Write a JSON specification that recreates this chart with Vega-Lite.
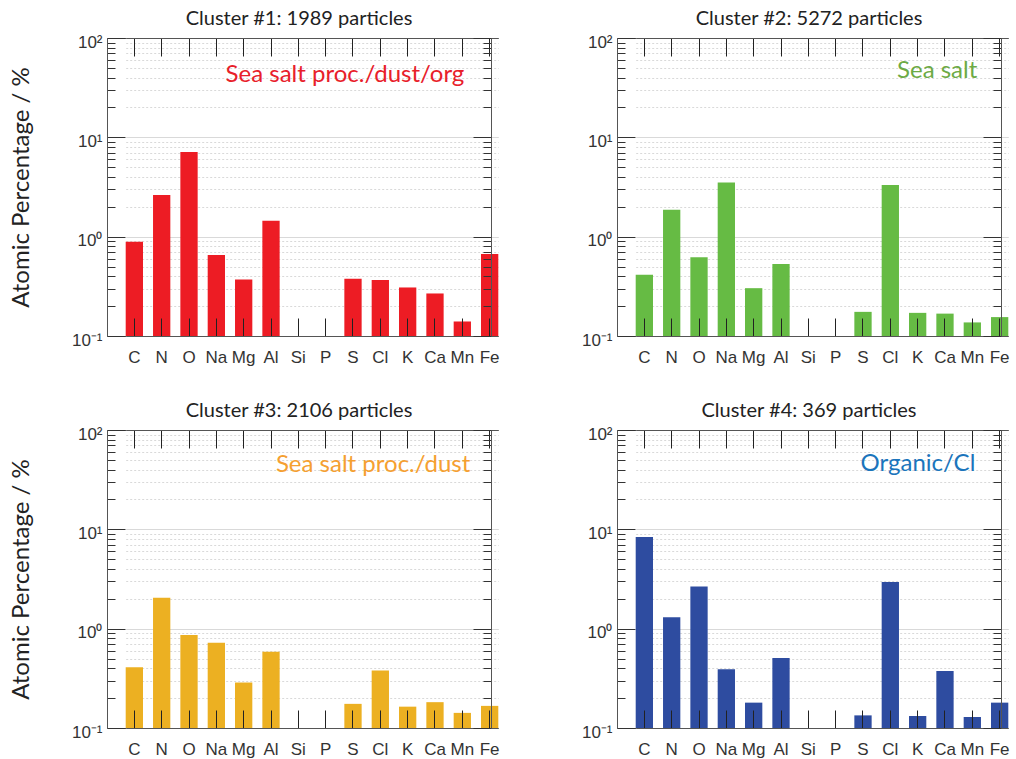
{
  "$schema": "https://vega.github.io/schema/vega-lite/v6.json",
  "padding": {"left": 8, "top": 8, "right": 0, "bottom": 0},
  "background": "white",
  "datasets": {
    "bars": [
      {"cluster": 1, "el": "C", "pct": 0.89},
      {"cluster": 1, "el": "N", "pct": 2.62},
      {"cluster": 1, "el": "O", "pct": 7.1},
      {"cluster": 1, "el": "Na", "pct": 0.655},
      {"cluster": 1, "el": "Mg", "pct": 0.37},
      {"cluster": 1, "el": "Al", "pct": 1.45},
      {"cluster": 1, "el": "S", "pct": 0.376},
      {"cluster": 1, "el": "Cl", "pct": 0.367},
      {"cluster": 1, "el": "K", "pct": 0.308},
      {"cluster": 1, "el": "Ca", "pct": 0.268},
      {"cluster": 1, "el": "Mn", "pct": 0.14},
      {"cluster": 1, "el": "Fe", "pct": 0.67},
      {"cluster": 2, "el": "C", "pct": 0.413},
      {"cluster": 2, "el": "N", "pct": 1.87},
      {"cluster": 2, "el": "O", "pct": 0.62},
      {"cluster": 2, "el": "Na", "pct": 3.52},
      {"cluster": 2, "el": "Mg", "pct": 0.303},
      {"cluster": 2, "el": "Al", "pct": 0.53},
      {"cluster": 2, "el": "S", "pct": 0.175},
      {"cluster": 2, "el": "Cl", "pct": 3.31},
      {"cluster": 2, "el": "K", "pct": 0.171},
      {"cluster": 2, "el": "Ca", "pct": 0.168},
      {"cluster": 2, "el": "Mn", "pct": 0.137},
      {"cluster": 2, "el": "Fe", "pct": 0.155},
      {"cluster": 3, "el": "C", "pct": 0.41},
      {"cluster": 3, "el": "N", "pct": 2.05},
      {"cluster": 3, "el": "O", "pct": 0.865},
      {"cluster": 3, "el": "Na", "pct": 0.72},
      {"cluster": 3, "el": "Mg", "pct": 0.287},
      {"cluster": 3, "el": "Al", "pct": 0.587},
      {"cluster": 3, "el": "S", "pct": 0.175},
      {"cluster": 3, "el": "Cl", "pct": 0.38},
      {"cluster": 3, "el": "K", "pct": 0.164},
      {"cluster": 3, "el": "Ca", "pct": 0.182},
      {"cluster": 3, "el": "Mn", "pct": 0.142},
      {"cluster": 3, "el": "Fe", "pct": 0.167},
      {"cluster": 4, "el": "C", "pct": 8.37},
      {"cluster": 4, "el": "N", "pct": 1.3},
      {"cluster": 4, "el": "O", "pct": 2.65},
      {"cluster": 4, "el": "Na", "pct": 0.39},
      {"cluster": 4, "el": "Mg", "pct": 0.18},
      {"cluster": 4, "el": "Al", "pct": 0.507},
      {"cluster": 4, "el": "S", "pct": 0.134},
      {"cluster": 4, "el": "Cl", "pct": 2.95},
      {"cluster": 4, "el": "K", "pct": 0.132},
      {"cluster": 4, "el": "Ca", "pct": 0.375},
      {"cluster": 4, "el": "Mn", "pct": 0.129},
      {"cluster": 4, "el": "Fe", "pct": 0.18}
    ],
    "notes": [
      {"cluster": 1, "el": "Mn", "pct": 42.5, "label": "Sea salt proc./dust/org"},
      {"cluster": 2, "el": "Mn", "pct": 46.5, "label": "Sea salt"},
      {"cluster": 3, "el": "Mn", "pct": 44.5, "label": "Sea salt proc./dust"},
      {"cluster": 4, "el": "Mn", "pct": 45.5, "label": "Organic/Cl"}
    ]
  },
  "columns": 2,
  "spacing": {"row": 34, "column": 80},
  "concat": [
    {
      "width": 384, "height": 298,
      "title": {"text": "Cluster #1: 1989 particles"},
      "layer": [
        {
          "data": {"name": "bars"},
          "transform": [{"filter": "datum.cluster == 1"}],
          "mark": {"type": "bar", "color": "#ED1C24"},
          "encoding": {
            "x": {"field": "el", "type": "nominal", "scale": {"domain": ["C","N","O","Na","Mg","Al","Si","P","S","Cl","K","Ca","Mn","Fe"], "range": [18.7, 391.3], "paddingInner": 0.367, "paddingOuter": 0},
              "axis": {"orient": "bottom", "title": null, "labelAngle": 0, "labelFont": "Liberation Sans", "labelFontSize": 17, "labelColor": "#333", "labelBaseline": "top", "tickSize": -18, "labelPadding": 31, "tickColor": "#222", "domainColor": "#555", "zindex": 1, "grid": false}},
            "y": {"field": "pct", "type": "quantitative", "stack": null, "scale": {"type": "log", "domain": [0.1, 100], "nice": false},
              "axis": {"orient": "left", "title": "Atomic Percentage / %", "titleFont": "Lato", "titleFontSize": 24, "titleFontWeight": "normal", "titleColor": "#222", "titlePadding": 38,
                "values": [0.1,0.2,0.3,0.4,0.5,0.6,0.7,0.8,0.9,1,2,3,4,5,6,7,8,9,10,20,30,40,50,60,70,80,90,100],
                "labelExpr": "datum.value == 100 ? '10²' : datum.value == 10 ? '10¹' : datum.value == 1 ? '10⁰' : datum.value == 0.1 ? '10⁻¹' : ''",
                "labelFont": "Liberation Sans", "labelFontSize": 17, "labelColor": "#333", "labelPadding": 23, "labelOffset": 4,
                "tickSize": {"condition": {"test": "datum.value == 0.1 || datum.value == 1 || datum.value == 10 || datum.value == 100", "value": -18}, "value": -8},
                "tickColor": "#333", "domainColor": "#555",
                "grid": true, "gridColor": "#d9d9d9", "gridDash": {"condition": {"test": "datum.value == 0.1 || datum.value == 1 || datum.value == 10 || datum.value == 100", "value": []}, "value": [2, 2]},
                "zindex": 0}},
            "y2": {"datum": 0.1}
          }
        },
        {
          "data": {"name": "notes"},
          "transform": [{"filter": "datum.cluster == 1"}],
          "mark": {"type": "text", "align": "right", "baseline": "middle", "font": "Lato", "fontSize": 24, "color": "#E8202A", "dx": 2},
          "encoding": {
            "x": {"field": "el", "type": "nominal", "scale": {"domain": ["C","N","O","Na","Mg","Al","Si","P","S","Cl","K","Ca","Mn","Fe"], "range": [18.7, 391.3], "paddingInner": 0.367, "paddingOuter": 0},
              "axis": {"orient": "top", "title": null, "labels": false, "tickSize": -18, "tickColor": "#222", "domainColor": "#555", "zindex": 1, "grid": false}},
            "y": {"field": "pct", "type": "quantitative", "scale": {"type": "log", "domain": [0.1, 100], "nice": false},
              "axis": {"orient": "right", "title": null, "labels": false,
                "values": [0.1,0.2,0.3,0.4,0.5,0.6,0.7,0.8,0.9,1,2,3,4,5,6,7,8,9,10,20,30,40,50,60,70,80,90,100],
                "tickSize": {"condition": {"test": "datum.value == 0.1 || datum.value == 1 || datum.value == 10 || datum.value == 100", "value": -18}, "value": -8},
                "tickColor": "#333", "domainColor": "#555", "grid": false, "zindex": 1}},
            "text": {"field": "label"}
          }
        }
      ],
      "resolve": {"axis": {"x": "independent", "y": "independent"}}
    },
    {
      "width": 384, "height": 298,
      "title": {"text": "Cluster #2: 5272 particles"},
      "layer": [
        {
          "data": {"name": "bars"},
          "transform": [{"filter": "datum.cluster == 2"}],
          "mark": {"type": "bar", "color": "#66BB44"},
          "encoding": {
            "x": {"field": "el", "type": "nominal", "scale": {"domain": ["C","N","O","Na","Mg","Al","Si","P","S","Cl","K","Ca","Mn","Fe"], "range": [18.7, 391.3], "paddingInner": 0.367, "paddingOuter": 0},
              "axis": {"orient": "bottom", "title": null, "labelAngle": 0, "labelFont": "Liberation Sans", "labelFontSize": 17, "labelColor": "#333", "labelBaseline": "top", "tickSize": -18, "labelPadding": 31, "tickColor": "#222", "domainColor": "#555", "zindex": 1, "grid": false}},
            "y": {"field": "pct", "type": "quantitative", "stack": null, "scale": {"type": "log", "domain": [0.1, 100], "nice": false},
              "axis": {"orient": "left", "title": null,
                "values": [0.1,0.2,0.3,0.4,0.5,0.6,0.7,0.8,0.9,1,2,3,4,5,6,7,8,9,10,20,30,40,50,60,70,80,90,100],
                "labelExpr": "datum.value == 100 ? '10²' : datum.value == 10 ? '10¹' : datum.value == 1 ? '10⁰' : datum.value == 0.1 ? '10⁻¹' : ''",
                "labelFont": "Liberation Sans", "labelFontSize": 17, "labelColor": "#333", "labelPadding": 23, "labelOffset": 4,
                "tickSize": {"condition": {"test": "datum.value == 0.1 || datum.value == 1 || datum.value == 10 || datum.value == 100", "value": -18}, "value": -8},
                "tickColor": "#333", "domainColor": "#555",
                "grid": true, "gridColor": "#d9d9d9", "gridDash": {"condition": {"test": "datum.value == 0.1 || datum.value == 1 || datum.value == 10 || datum.value == 100", "value": []}, "value": [2, 2]},
                "zindex": 0}},
            "y2": {"datum": 0.1}
          }
        },
        {
          "data": {"name": "notes"},
          "transform": [{"filter": "datum.cluster == 2"}],
          "mark": {"type": "text", "align": "right", "baseline": "middle", "font": "Lato", "fontSize": 24, "color": "#6DAA45", "dx": 5},
          "encoding": {
            "x": {"field": "el", "type": "nominal", "scale": {"domain": ["C","N","O","Na","Mg","Al","Si","P","S","Cl","K","Ca","Mn","Fe"], "range": [18.7, 391.3], "paddingInner": 0.367, "paddingOuter": 0},
              "axis": {"orient": "top", "title": null, "labels": false, "tickSize": -18, "tickColor": "#222", "domainColor": "#555", "zindex": 1, "grid": false}},
            "y": {"field": "pct", "type": "quantitative", "scale": {"type": "log", "domain": [0.1, 100], "nice": false},
              "axis": {"orient": "right", "title": null, "labels": false,
                "values": [0.1,0.2,0.3,0.4,0.5,0.6,0.7,0.8,0.9,1,2,3,4,5,6,7,8,9,10,20,30,40,50,60,70,80,90,100],
                "tickSize": {"condition": {"test": "datum.value == 0.1 || datum.value == 1 || datum.value == 10 || datum.value == 100", "value": -18}, "value": -8},
                "tickColor": "#333", "domainColor": "#555", "grid": false, "zindex": 1}},
            "text": {"field": "label"}
          }
        }
      ],
      "resolve": {"axis": {"x": "independent", "y": "independent"}}
    },
    {
      "width": 384, "height": 298,
      "title": {"text": "Cluster #3: 2106 particles"},
      "layer": [
        {
          "data": {"name": "bars"},
          "transform": [{"filter": "datum.cluster == 3"}],
          "mark": {"type": "bar", "color": "#ECB022"},
          "encoding": {
            "x": {"field": "el", "type": "nominal", "scale": {"domain": ["C","N","O","Na","Mg","Al","Si","P","S","Cl","K","Ca","Mn","Fe"], "range": [18.7, 391.3], "paddingInner": 0.367, "paddingOuter": 0},
              "axis": {"orient": "bottom", "title": null, "labelAngle": 0, "labelFont": "Liberation Sans", "labelFontSize": 17, "labelColor": "#333", "labelBaseline": "top", "tickSize": -18, "labelPadding": 31, "tickColor": "#222", "domainColor": "#555", "zindex": 1, "grid": false}},
            "y": {"field": "pct", "type": "quantitative", "stack": null, "scale": {"type": "log", "domain": [0.1, 100], "nice": false},
              "axis": {"orient": "left", "title": "Atomic Percentage / %", "titleFont": "Lato", "titleFontSize": 24, "titleFontWeight": "normal", "titleColor": "#222", "titlePadding": 38,
                "values": [0.1,0.2,0.3,0.4,0.5,0.6,0.7,0.8,0.9,1,2,3,4,5,6,7,8,9,10,20,30,40,50,60,70,80,90,100],
                "labelExpr": "datum.value == 100 ? '10²' : datum.value == 10 ? '10¹' : datum.value == 1 ? '10⁰' : datum.value == 0.1 ? '10⁻¹' : ''",
                "labelFont": "Liberation Sans", "labelFontSize": 17, "labelColor": "#333", "labelPadding": 23, "labelOffset": 4,
                "tickSize": {"condition": {"test": "datum.value == 0.1 || datum.value == 1 || datum.value == 10 || datum.value == 100", "value": -18}, "value": -8},
                "tickColor": "#333", "domainColor": "#555",
                "grid": true, "gridColor": "#d9d9d9", "gridDash": {"condition": {"test": "datum.value == 0.1 || datum.value == 1 || datum.value == 10 || datum.value == 100", "value": []}, "value": [2, 2]},
                "zindex": 0}},
            "y2": {"datum": 0.1}
          }
        },
        {
          "data": {"name": "notes"},
          "transform": [{"filter": "datum.cluster == 3"}],
          "mark": {"type": "text", "align": "right", "baseline": "middle", "font": "Lato", "fontSize": 24, "color": "#F5A031", "dx": 8},
          "encoding": {
            "x": {"field": "el", "type": "nominal", "scale": {"domain": ["C","N","O","Na","Mg","Al","Si","P","S","Cl","K","Ca","Mn","Fe"], "range": [18.7, 391.3], "paddingInner": 0.367, "paddingOuter": 0},
              "axis": {"orient": "top", "title": null, "labels": false, "tickSize": -18, "tickColor": "#222", "domainColor": "#555", "zindex": 1, "grid": false}},
            "y": {"field": "pct", "type": "quantitative", "scale": {"type": "log", "domain": [0.1, 100], "nice": false},
              "axis": {"orient": "right", "title": null, "labels": false,
                "values": [0.1,0.2,0.3,0.4,0.5,0.6,0.7,0.8,0.9,1,2,3,4,5,6,7,8,9,10,20,30,40,50,60,70,80,90,100],
                "tickSize": {"condition": {"test": "datum.value == 0.1 || datum.value == 1 || datum.value == 10 || datum.value == 100", "value": -18}, "value": -8},
                "tickColor": "#333", "domainColor": "#555", "grid": false, "zindex": 1}},
            "text": {"field": "label"}
          }
        }
      ],
      "resolve": {"axis": {"x": "independent", "y": "independent"}}
    },
    {
      "width": 384, "height": 298,
      "title": {"text": "Cluster #4: 369 particles"},
      "layer": [
        {
          "data": {"name": "bars"},
          "transform": [{"filter": "datum.cluster == 4"}],
          "mark": {"type": "bar", "color": "#2E4CA0"},
          "encoding": {
            "x": {"field": "el", "type": "nominal", "scale": {"domain": ["C","N","O","Na","Mg","Al","Si","P","S","Cl","K","Ca","Mn","Fe"], "range": [18.7, 391.3], "paddingInner": 0.367, "paddingOuter": 0},
              "axis": {"orient": "bottom", "title": null, "labelAngle": 0, "labelFont": "Liberation Sans", "labelFontSize": 17, "labelColor": "#333", "labelBaseline": "top", "tickSize": -18, "labelPadding": 31, "tickColor": "#222", "domainColor": "#555", "zindex": 1, "grid": false}},
            "y": {"field": "pct", "type": "quantitative", "stack": null, "scale": {"type": "log", "domain": [0.1, 100], "nice": false},
              "axis": {"orient": "left", "title": null,
                "values": [0.1,0.2,0.3,0.4,0.5,0.6,0.7,0.8,0.9,1,2,3,4,5,6,7,8,9,10,20,30,40,50,60,70,80,90,100],
                "labelExpr": "datum.value == 100 ? '10²' : datum.value == 10 ? '10¹' : datum.value == 1 ? '10⁰' : datum.value == 0.1 ? '10⁻¹' : ''",
                "labelFont": "Liberation Sans", "labelFontSize": 17, "labelColor": "#333", "labelPadding": 23, "labelOffset": 4,
                "tickSize": {"condition": {"test": "datum.value == 0.1 || datum.value == 1 || datum.value == 10 || datum.value == 100", "value": -18}, "value": -8},
                "tickColor": "#333", "domainColor": "#555",
                "grid": true, "gridColor": "#d9d9d9", "gridDash": {"condition": {"test": "datum.value == 0.1 || datum.value == 1 || datum.value == 10 || datum.value == 100", "value": []}, "value": [2, 2]},
                "zindex": 0}},
            "y2": {"datum": 0.1}
          }
        },
        {
          "data": {"name": "notes"},
          "transform": [{"filter": "datum.cluster == 4"}],
          "mark": {"type": "text", "align": "right", "baseline": "middle", "font": "Lato", "fontSize": 24, "color": "#1B75BC", "dx": 3},
          "encoding": {
            "x": {"field": "el", "type": "nominal", "scale": {"domain": ["C","N","O","Na","Mg","Al","Si","P","S","Cl","K","Ca","Mn","Fe"], "range": [18.7, 391.3], "paddingInner": 0.367, "paddingOuter": 0},
              "axis": {"orient": "top", "title": null, "labels": false, "tickSize": -18, "tickColor": "#222", "domainColor": "#555", "zindex": 1, "grid": false}},
            "y": {"field": "pct", "type": "quantitative", "scale": {"type": "log", "domain": [0.1, 100], "nice": false},
              "axis": {"orient": "right", "title": null, "labels": false,
                "values": [0.1,0.2,0.3,0.4,0.5,0.6,0.7,0.8,0.9,1,2,3,4,5,6,7,8,9,10,20,30,40,50,60,70,80,90,100],
                "tickSize": {"condition": {"test": "datum.value == 0.1 || datum.value == 1 || datum.value == 10 || datum.value == 100", "value": -18}, "value": -8},
                "tickColor": "#333", "domainColor": "#555", "grid": false, "zindex": 1}},
            "text": {"field": "label"}
          }
        }
      ],
      "resolve": {"axis": {"x": "independent", "y": "independent"}}
    }
  ],
  "config": {
    "view": {"stroke": "#555", "strokeWidth": 1},
    "title": {"font": "Lato", "fontSize": 20, "fontWeight": "normal", "color": "#222", "offset": 4},
    "axis": {"domainWidth": 1, "tickWidth": 1}
  }
}
